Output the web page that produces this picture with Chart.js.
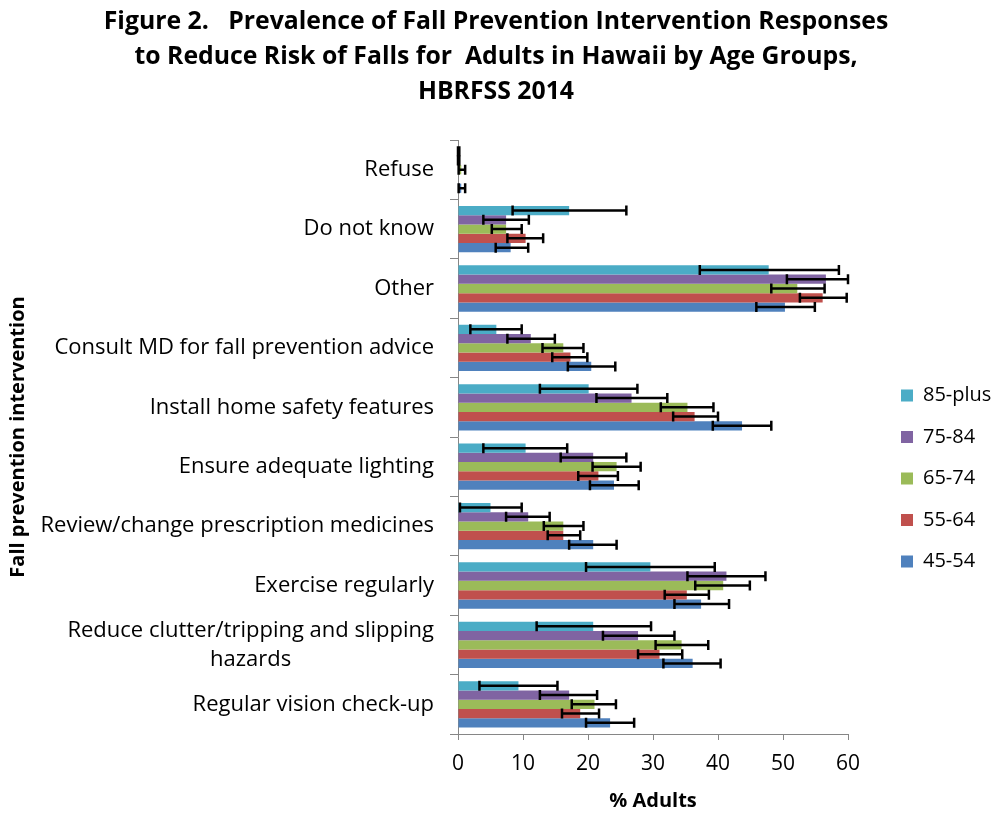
<!DOCTYPE html>
<html>
<head>
<meta charset="utf-8">
<script src="https://cdn.jsdelivr.net/npm/chart.js@4/dist/chart.umd.min.js"></script>
<style>
  html, body { margin: 0; padding: 0; background: #fff; }
  #wrap { width: 992px; height: 813px; }
</style>
</head>
<body>
<div id="wrap"><canvas id="fig2"></canvas></div>
<script>
// categories, top to bottom as in the figure
const categories = [
  "Refuse",
  "Do not know",
  "Other",
  "Consult MD for fall prevention advice",
  "Install home safety features",
  "Ensure adequate lighting",
  "Review/change prescription medicines",
  "Exercise regularly",
  "Reduce clutter/tripping and slipping hazards",
  "Regular vision check-up",
];

const ageGroups = ["85-plus", "75-84", "65-74", "55-64", "45-54"];
const ageColors = ["#4BACC6", "#8064A2", "#9BBB59", "#C0504D", "#4F81BD"];

// % adults, with 95% CI low / high
const age85plus = [0, 17.1, 47.8, 5.9, 20.1, 10.4, 5.0, 29.6, 20.8, 9.3];
const age85plusLow = [0, 8.4, 37.2, 1.9, 12.6, 3.9, 0.3, 19.7, 12.1, 3.3];
const age85plusHigh = [0.2, 25.9, 58.6, 9.8, 27.6, 16.8, 9.8, 39.5, 29.7, 15.3];

const age7584 = [0, 7.4, 56.6, 11.2, 26.7, 20.8, 10.8, 41.3, 27.7, 17.1];
const age7584Low = [0, 3.9, 50.6, 7.6, 21.3, 15.8, 7.4, 35.3, 22.3, 12.6];
const age7584High = [0.2, 10.9, 60, 14.9, 32.2, 25.9, 14.1, 47.3, 33.3, 21.4];

const age6574 = [0.5, 7.4, 52.2, 16.2, 35.3, 24.4, 16.2, 40.8, 34.4, 21.0];
const age6574Low = [0.1, 5.2, 48.2, 13.0, 31.2, 20.7, 13.2, 36.5, 30.4, 17.5];
const age6574High = [1.1, 9.8, 56.4, 19.3, 39.3, 28.1, 19.3, 44.9, 38.5, 24.3];

const age5564 = [null, 10.4, 56.1, 17.3, 36.4, 21.6, 16.2, 35.2, 31.0, 18.8];
const age5564Low = [null, 7.6, 52.6, 14.5, 33.1, 18.5, 13.8, 31.8, 27.7, 16.0];
const age5564High = [null, 13.1, 59.8, 19.9, 40.0, 24.6, 18.8, 38.6, 34.5, 21.7];

const age4554 = [0.5, 8.1, 50.3, 20.5, 43.7, 24.0, 20.8, 37.4, 36.1, 23.4];
const age4554Low = [0.1, 5.8, 45.9, 16.9, 39.2, 20.3, 17.1, 33.3, 31.6, 19.7];
const age4554High = [1.1, 10.8, 54.9, 24.2, 48.2, 27.8, 24.4, 41.7, 40.4, 27.1];

const xTicks = [0, 10, 20, 30, 40, 50, 60];

const values = [age85plus, age7584, age6574, age5564, age4554];
const lows = [age85plusLow, age7584Low, age6574Low, age5564Low, age4554Low];
const highs = [age85plusHigh, age7584High, age6574High, age5564High, age4554High];

const FONT = "'Open Sans', sans-serif";
const tickSize = 22;

Chart.defaults.font.family = FONT;
Chart.defaults.color = "#000";

// wrap long category names, second line centred under the first
const measure = document.createElement("canvas").getContext("2d");
measure.font = tickSize + "px " + FONT;
function wrapLabel(label) {
  if (measure.measureText(label).width < 400) return label;
  const words = label.split(" ");
  let first = "";
  let i = 0;
  while (i < words.length && measure.measureText(first + " " + words[i]).width < 400) {
    first = first ? first + " " + words[i] : words[i];
    i++;
  }
  const second = words.slice(i).join(" ");
  const gap = measure.measureText(first).width - measure.measureText(second).width;
  const n = Math.round(gap / 2 / measure.measureText(" ").width);
  return [first, second + " ".repeat(Math.max(n, 0))];
}

const errorBars = {
  id: "errorBars",
  afterDatasetsDraw(chart) {
    const { ctx } = chart;
    const xs = chart.scales.x;
    ctx.save();
    ctx.strokeStyle = "#000";
    ctx.lineWidth = 2.5;
    chart.data.datasets.forEach((ds, i) => {
      chart.getDatasetMeta(i).data.forEach((bar, j) => {
        const lo = ds.errLow[j];
        const hi = ds.errHigh[j];
        if (lo == null || hi == null) return;
        const x1 = xs.getPixelForValue(lo);
        const x2 = xs.getPixelForValue(hi);
        const y = bar.y;
        const cap = 5;
        ctx.beginPath();
        ctx.moveTo(x1, y);
        ctx.lineTo(x2, y);
        ctx.moveTo(x1, y - cap);
        ctx.lineTo(x1, y + cap);
        ctx.moveTo(x2, y - cap);
        ctx.lineTo(x2, y + cap);
        ctx.stroke();
      });
    });
    ctx.restore();
  },
};

// legend sits away from the plot, lower than centre
const legendPlace = {
  id: "legendPlace",
  beforeUpdate(chart) {
    const lg = chart.legend;
    if (lg && !lg._fixed) {
      const fit = lg.fit;
      lg.fit = function () {
        fit.call(this);
        this.width = 144;
      };
      lg._fixed = true;
    }
  },
  afterLayout(chart) {
    const lg = chart.legend;
    lg.left += 31.5;
    lg.right += 31.5;
    lg.top += 72;
    lg.bottom += 72;
  },
};

new Chart(document.getElementById("fig2"), {
  type: "bar",
  data: {
    labels: categories,
    datasets: ageGroups.map((name, i) => ({
      label: name,
      data: values[i],
      errLow: lows[i],
      errHigh: highs[i],
      backgroundColor: ageColors[i],
      borderWidth: 0,
      categoryPercentage: 0.78,
      barPercentage: 1.0,
    })),
  },
  options: {
    indexAxis: "y",
    responsive: true,
    maintainAspectRatio: false,
    animation: false,
    layout: { padding: 0 },
    scales: {
      x: {
        min: 0,
        max: 60,
        afterBuildTicks: (scale) => {
          scale.ticks = xTicks.map((v) => ({ value: v }));
        },
        afterFit: (scale) => {
          scale.height = 79;
        },
        grid: { drawOnChartArea: false, tickLength: 6, color: "#868686" },
        border: { color: "#868686" },
        ticks: { font: { size: 21 }, padding: 11, color: "#000" },
        title: {
          display: true,
          text: "% Adults",
          font: { size: 20, weight: "bold" },
          padding: { top: 0, bottom: 0 },
        },
      },
      y: {
        afterFit: (scale) => {
          scale.width = 458;
        },
        grid: { drawOnChartArea: false, offset: true, tickLength: 8, color: "#868686" },
        border: { color: "#868686" },
        ticks: {
          autoSkip: false,
          font: { size: tickSize, lineHeight: 1.32 },
          padding: 16,
          color: "#000",
          callback(value) {
            return wrapLabel(this.getLabelForValue(value));
          },
        },
        title: {
          display: true,
          text: "Fall prevention intervention",
          font: { size: 20, weight: "bold" },
          padding: { top: 6, bottom: 0 },
        },
      },
    },
    plugins: {
      title: {
        display: true,
        text: [
          "Figure 2.   Prevalence of Fall Prevention Intervention Responses",
          "to Reduce Risk of Falls for  Adults in Hawaii by Age Groups,",
          "HBRFSS 2014",
        ],
        font: { size: 24.8, weight: "bold", lineHeight: "35px" },
        color: "#000",
        padding: { top: 4, bottom: 31 },
      },
      legend: {
        position: "right",
        labels: {
          boxWidth: 12,
          boxHeight: 12,
          padding: 21.5,
          font: { size: 20 },
          color: "#000",
        },
      },
      tooltip: { enabled: false },
    },
  },
  plugins: [errorBars, legendPlace],
});
</script>
</body>
</html>
